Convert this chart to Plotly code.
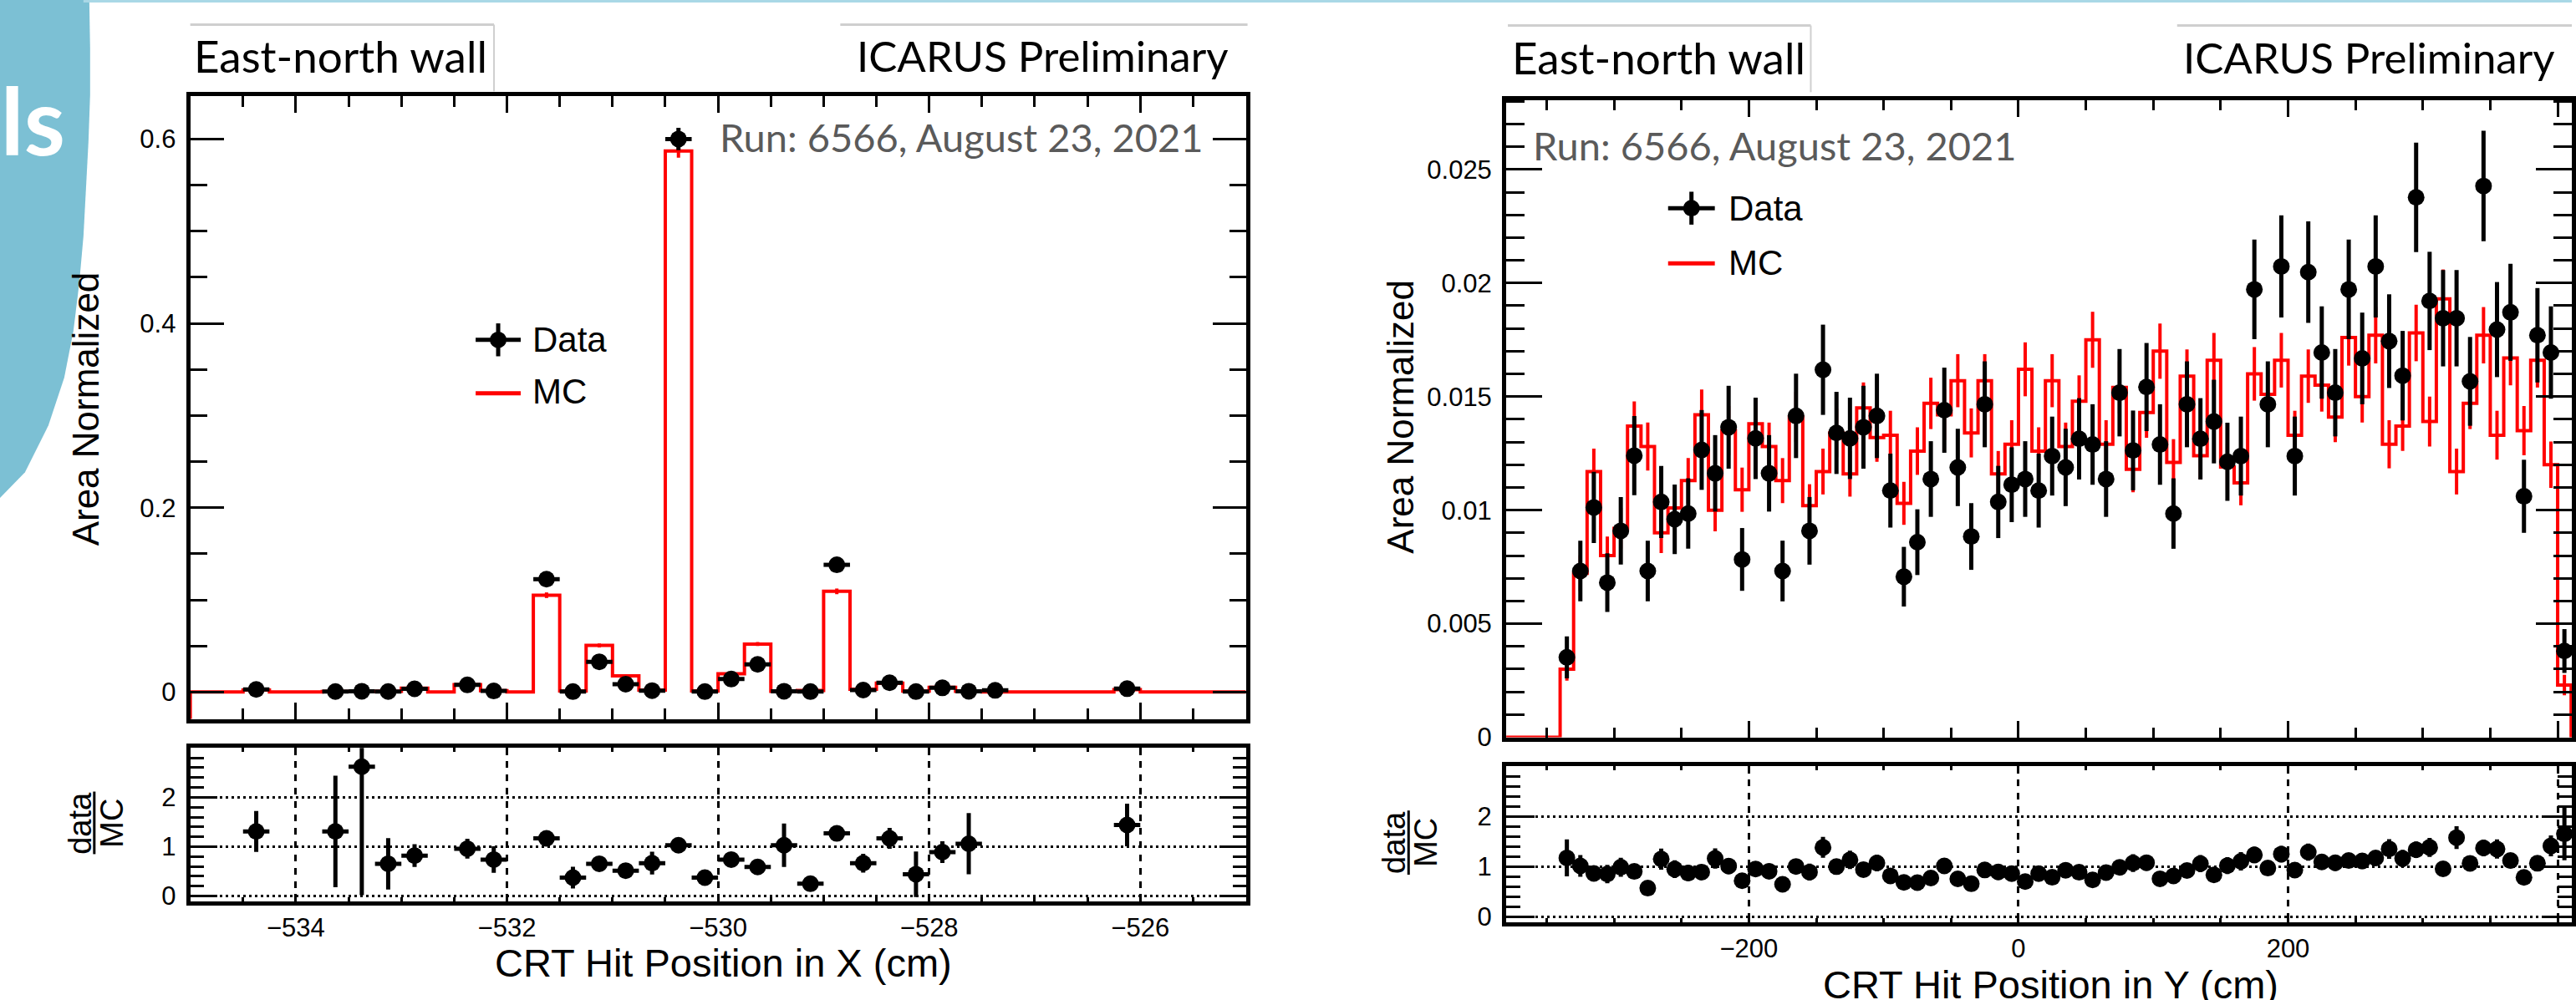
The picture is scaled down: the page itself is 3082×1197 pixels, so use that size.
import numpy as np
import plotly.graph_objects as go

W, H = 3082, 1197

# ---------------- Left panel: CRT hit position in X ----------------
x_bin_lo, x_bin_width, x_nbins = -535.0, 0.25, 40
x_mc = [0, 0, 0.0021, 0, 0, 0.0004, 0.0003, 0.0008, 0.0042, 0,
        0.0079, 0.0015, 0, 0.105, 0.0012, 0.0505, 0.0175, 0.0022, 0.587, 0.0011,
        0.0198, 0.052, 0.0008, 0.0016, 0.1092, 0.0030, 0.0095, 0.0010, 0.0050, 0.0008,
        0, 0, 0, 0, 0, 0.0025, 0, 0, 0, 0]
x_data_pos = [-534.375, -533.625, -533.375, -533.125, -532.875, -532.375, -532.125,
              -531.625, -531.375, -531.125, -530.875, -530.625, -530.375, -530.125,
              -529.875, -529.625, -529.375, -529.125, -528.875, -528.625, -528.375,
              -528.125, -527.875, -527.625, -527.375, -526.125]
x_data = [0.0028, 0.0005, 0.0008, 0.0005, 0.0035, 0.0077, 0.0011,
          0.1224, 0.00045, 0.0328, 0.0085, 0.0015, 0.600, 0.0004,
          0.0140, 0.0300, 0.00085, 0.0004, 0.138, 0.0021, 0.0100,
          0.00045, 0.0045, 0.00085, 0.0018, 0.0036]
x_ratio_pos = [-534.375, -533.625, -533.375, -533.125, -532.875, -532.375, -532.125,
               -531.625, -531.375, -531.125, -530.875, -530.625, -530.375, -530.125,
               -529.875, -529.625, -529.375, -529.125, -528.875, -528.625, -528.375,
               -528.125, -527.875, -527.625, -526.125]
x_ratio = [1.31, 1.31, 2.62, 0.655, 0.82, 0.96, 0.74, 1.17, 0.375, 0.655, 0.515, 0.667,
           1.03, 0.375, 0.74, 0.59, 1.03, 0.25, 1.27, 0.667, 1.17, 0.443, 0.89, 1.06, 1.44]
x_ratio_err = [0.415, 1.13, 2.6, 0.52, 0.23, 0.2, 0.27, 0.05, 0.22, 0.08, 0.1, 0.23,
               0.04, 0.08, 0.1, 0.06, 0.44, 0.08, 0.05, 0.19, 0.21, 0.46, 0.22, 0.62, 0.43]

# ---------------- Right panel: CRT hit position in Y ----------------
y_bin_lo, y_bin_width, y_nbins = -380.0, 10.0, 80
y_mc = [0, 0, 0, 0,
        0.0030, 0.00722, 0.0117, 0.0080, 0.0092, 0.0137, 0.0128, 0.0090, 0.0101, 0.0113,
        0.0142, 0.0100, 0.0135, 0.0109, 0.0138, 0.0128, 0.0113, 0.0141, 0.0102, 0.0117,
        0.0134, 0.0116, 0.0145, 0.0132, 0.0133, 0.0103, 0.0126, 0.0147, 0.0142, 0.0157,
        0.0134, 0.0157, 0.0116, 0.0129, 0.0162, 0.0126, 0.0157, 0.0128, 0.0148, 0.0175,
        0.0129, 0.0154, 0.0118, 0.0143, 0.0170, 0.0121, 0.0159, 0.0124, 0.0166, 0.0119,
        0.0112, 0.0160, 0.0151, 0.0166, 0.0133, 0.0159, 0.0155, 0.0141, 0.0176, 0.0150,
        0.0177, 0.0129, 0.0137, 0.0178, 0.0139, 0.0193, 0.0117, 0.0147, 0.0177, 0.0133,
        0.0167, 0.0135, 0.0166, 0.0120, 0.0023,
        0]
y_data_first_center = -335.0
y_data = [0.00352, 0.00732, 0.01012, 0.00681, 0.00909, 0.0124, 0.00732, 0.01036, 0.0096,
          0.00985, 0.01265, 0.01162, 0.01365, 0.00783, 0.01316, 0.01162, 0.00732, 0.01415,
          0.00909, 0.01618, 0.0134, 0.01316, 0.01365, 0.01415, 0.01086, 0.00707, 0.00859,
          0.01137, 0.0144, 0.01188, 0.00884, 0.01466, 0.01036, 0.01112,
          0.01137, 0.01086, 0.01238, 0.01188, 0.01314, 0.01289, 0.01137, 0.01517, 0.01263,
          0.01542, 0.01289, 0.00985, 0.01466, 0.01314, 0.0139, 0.01213, 0.01238, 0.01972,
          0.01466, 0.02073, 0.01238, 0.02048, 0.01694, 0.01517, 0.01972, 0.01668, 0.02073,
          0.01744, 0.01592, 0.02377, 0.01921, 0.01845, 0.01845, 0.01567, 0.02427, 0.01795,
          0.01871, 0.01061, 0.0177, 0.01694, 0.0038]

N_DATA = 4100.0   # effective statistics used for the Poisson error bars
N_MC = 11500.0

# ---------------- helpers ----------------
def PX(x):
    return x / W


def PY(y):
    return 1 - y / H


RED = "#ff0000"
ROOTF = "Liberation Sans"
AVF = "Lato"
TICKSZ = 31

x_edges = x_bin_lo + x_bin_width * np.arange(x_nbins + 1)
x_centers = x_edges[:-1] + x_bin_width / 2
y_edges = y_bin_lo + y_bin_width * np.arange(y_nbins + 1)
y_centers = y_edges[:-1] + y_bin_width / 2
y_data_pos = y_data_first_center + y_bin_width * np.arange(len(y_data))

xmc = np.array(x_mc)
ymc = np.array(y_mc)
xd = np.array(x_data)
yd = np.array(y_data)

XL_RANGE = [-535, -525]
XL_YR = [-0.0295, 0.6464]
YR_XR = [-380, 410.5]
YR_YR = [0, 0.02804]
RAT_L = [-0.1, 3.0]
RAT_R = [-0.11, 3.0]

fig = go.Figure()

# ---- left upper ----
fig.add_trace(go.Scatter(
    x=np.concatenate([[x_edges[0]], x_edges]),
    y=np.concatenate([[XL_YR[0]], xmc, [xmc[-1]]]),
    mode="lines", line=dict(color=RED, width=4, shape="hv"),
    xaxis="x", yaxis="y", hoverinfo="skip"))
fig.add_trace(go.Scatter(
    x=x_centers, y=xmc, mode="markers",
    marker=dict(size=1, color="rgba(0,0,0,0)"),
    error_y=dict(type="data", array=np.sqrt(xmc / N_MC), color=RED, thickness=4, width=0),
    xaxis="x", yaxis="y", hoverinfo="skip"))
fig.add_trace(go.Scatter(
    x=x_data_pos, y=xd, mode="markers",
    marker=dict(size=20, color="black"),
    error_y=dict(type="data", array=np.sqrt(xd / N_DATA), color="black", thickness=5, width=0),
    error_x=dict(type="data", array=[x_bin_width / 2] * len(xd), color="black", thickness=5, width=0),
    xaxis="x", yaxis="y", hoverinfo="skip"))

# ---- left ratio ----
fig.add_trace(go.Scatter(
    x=x_ratio_pos, y=x_ratio, mode="markers",
    marker=dict(size=20, color="black"),
    error_y=dict(type="data", array=x_ratio_err, color="black", thickness=5, width=0),
    error_x=dict(type="data", array=[x_bin_width / 2] * len(x_ratio), color="black", thickness=5, width=0),
    xaxis="x2", yaxis="y2", hoverinfo="skip"))

# ---- right upper ----
fig.add_trace(go.Scatter(
    x=y_edges, y=np.concatenate([ymc, [ymc[-1]]]),
    mode="lines", line=dict(color=RED, width=4, shape="hv"),
    xaxis="x3", yaxis="y3", hoverinfo="skip"))
fig.add_trace(go.Scatter(
    x=y_centers, y=ymc, mode="markers",
    marker=dict(size=1, color="rgba(0,0,0,0)"),
    error_y=dict(type="data", array=np.sqrt(ymc / N_MC), color=RED, thickness=4, width=0),
    xaxis="x3", yaxis="y3", hoverinfo="skip"))
fig.add_trace(go.Scatter(
    x=y_data_pos, y=yd, mode="markers",
    marker=dict(size=20, color="black"),
    error_y=dict(type="data", array=np.sqrt(yd / N_DATA), color="black", thickness=5, width=0),
    error_x=dict(type="data", array=[y_bin_width / 2] * len(yd), color="black", thickness=5, width=0),
    xaxis="x3", yaxis="y3", hoverinfo="skip"))

# ---- right ratio (data / MC) ----
mc_at = np.interp(y_data_pos, y_centers, ymc)
rr = yd / mc_at
sd = np.sqrt(yd / N_DATA)
sm = np.sqrt(mc_at / N_MC)
rr_err = np.sqrt((sd / mc_at) ** 2 + (yd * sm / mc_at ** 2) ** 2)
fig.add_trace(go.Scatter(
    x=y_data_pos, y=rr, mode="markers",
    marker=dict(size=20, color="black"),
    error_y=dict(type="data", array=rr_err, color="black", thickness=5, width=0),
    error_x=dict(type="data", array=[y_bin_width / 2] * len(rr), color="black", thickness=5, width=0),
    xaxis="x4", yaxis="y4", hoverinfo="skip"))


def axis(domain, rng, dtick, tick0, mdtick, tlen, mlen, labels, anchor, standoff=6, **kw):
    d = dict(domain=domain, range=rng, showline=True, linewidth=5, linecolor="black",
             mirror="ticks", ticks="inside", ticklen=tlen, tickwidth=3, tickcolor="black",
             dtick=dtick, tick0=tick0,
             minor=dict(ticks="inside", ticklen=mlen, tickwidth=3, tickcolor="black",
                        dtick=mdtick, tick0=tick0, showgrid=False),
             showgrid=False, zeroline=False, showticklabels=labels, anchor=anchor,
             tickfont=dict(family=ROOTF, size=TICKSZ, color="black"), ticklabelstandoff=standoff,
             fixedrange=True)
    d.update(kw)
    return d


GRIDX = dict(showgrid=True, gridcolor="black", gridwidth=3, griddash="8px,8px")
GRIDY = dict(showgrid=True, gridcolor="black", gridwidth=3, griddash="3px,4px")

LX = [PX(228), PX(1493)]
RX = [PX(1805), 1.0]

fig.update_layout(
    width=W, height=H, margin=dict(l=0, r=0, t=0, b=0),
    paper_bgcolor="white", plot_bgcolor="white", showlegend=False,
    xaxis=axis(LX, XL_RANGE, 2, -534, 0.5, 20, 13, False, "y"),
    yaxis=axis([PY(874), PY(117)], XL_YR, 0.2, 0, 0.05, 40, 20, True, "x",
               tickmode="array", tickvals=[0, 0.2, 0.4, 0.6], ticktext=["0", "0.2", "0.4", "0.6"]),
    xaxis2=axis(LX, XL_RANGE, 2, -534, 0.5, 9, 5, True, "y2", standoff=0, **GRIDX),
    yaxis2=axis([PY(1095), PY(909)], RAT_L, 1, 0, 0.2, 32, 16, True, "x2",
                tickmode="array", tickvals=[0, 1, 2], ticktext=["0", "1", "2"], **GRIDY),
    xaxis3=axis(RX, YR_XR, 200, 0, 50, 20, 12, False, "y3"),
    yaxis3=axis([PY(896), PY(122)], YR_YR, 0.005, 0, 0.001, 43, 22, True, "x3",
                tickmode="array", tickvals=[0, 0.005, 0.01, 0.015, 0.02, 0.025],
                ticktext=["0", "0.005", "0.01", "0.015", "0.02", "0.025"]),
    xaxis4=axis(RX, YR_XR, 200, 0, 50, 9, 5, True, "y4", standoff=0, **GRIDX),
    yaxis4=axis([PY(1121), PY(931)], RAT_R, 1, 0, 0.2, 34, 17, True, "x4",
                tickmode="array", tickvals=[0, 1, 2], ticktext=["0", "1", "2"], **GRIDY),
)
for k in ["yaxis2", "yaxis4"]:
    fig.layout[k].minor.tickmode = "linear"

shapes = []
# slide decoration (blue circle segment + top rule)
edge = [(107, 0), (108, 60), (108, 115), (106, 172), (103, 230), (100, 287), (95, 344),
        (88, 402), (77, 459), (58, 517), (30, 574), (0, 605)]
path = f"M {PX(0)},{PY(0)} " + " ".join(f"L {PX(a)},{PY(b)}" for a, b in edge) + " Z"
shapes.append(dict(type="path", path=path, xref="paper", yref="paper",
                   fillcolor="#7cc0d4", line=dict(width=0), layer="below"))
shapes.append(dict(type="line", xref="paper", yref="paper", x0=PX(100), x1=1, y0=PY(1.5), y1=PY(1.5),
                   line=dict(color="#a9d8e6", width=3)))


def hline(x0, x1, y, color, w):
    shapes.append(dict(type="line", xref="paper", yref="paper", x0=PX(x0), x1=PX(x1),
                       y0=PY(y), y1=PY(y), line=dict(color=color, width=w)))


def vline(x, y0, y1, color, w):
    shapes.append(dict(type="line", xref="paper", yref="paper", x0=PX(x), x1=PX(x),
                       y0=PY(y0), y1=PY(y1), line=dict(color=color, width=w)))


GR = "#cfcfcf"
# text boxes
hline(228, 592, 30, GR, 3); vline(592, 30, 111, GR, 2)
hline(1007, 1495, 30, GR, 3)
hline(1807, 2170, 31, GR, 3); vline(2170, 31, 112, GR, 2)
hline(2609, 3082, 31, GR, 3)


# legends (drawn markers)
def data_legend(cx, cy, half):
    hline(cx - half, cx + half, cy, "black", 5)
    vline(cx, cy - 20, cy + 20, "black", 5)
    shapes.append(dict(type="circle", xref="paper", yref="paper",
                       x0=PX(cx - 10), x1=PX(cx + 10), y0=PY(cy + 10), y1=PY(cy - 10),
                       fillcolor="black", line=dict(color="black", width=0)))


data_legend(597, 413, 27)
hline(570, 624, 478, RED, 5)
data_legend(2027, 253, 28)
hline(1999, 2055, 320, RED, 5)

# data/MC fraction bars
vline(113, 962, 1038, "black", 3)
vline(1688, 985, 1063, "black", 3)

ann = []


def text(x, y, s, size, family=ROOTF, color="black", xanchor="center", angle=0, bold=False):
    ann.append(dict(x=PX(x), y=PY(y), xref="paper", yref="paper", text=("<b>%s</b>" % s) if bold else s,
                    showarrow=False, xanchor=xanchor, yanchor="middle", textangle=angle,
                    font=dict(family=family, size=size, color=color)))


text(80, 145, "els", 112, family="Lato", color="white", xanchor="right", bold=True)
# headers
text(230, 68, "East-north wall", 53, family=AVF, xanchor="left")
text(1474, 68, "ICARUS Preliminary", 51, family=AVF, xanchor="right")
text(1810, 70, "East-north wall", 53, family=AVF, xanchor="left")
text(2614, 70, "ICARUS Preliminary", 51, family=AVF, xanchor="left")
text(860, 167, "Run: 6566, August 23, 2021", 47, family=AVF, color="#5a5a5a", xanchor="left")
text(1835, 177, "Run: 6566, August 23, 2021", 47, family=AVF, color="#5a5a5a", xanchor="left")
# legend text
text(636, 413, "Data", 42, xanchor="left")
text(636, 476, "MC", 42, xanchor="left")
text(2069, 253, "Data", 42, xanchor="left")
text(2069, 319, "MC", 42, xanchor="left")
# axis titles
text(103, 497, "Area Normalized", 44, angle=-90)
text(1678, 506, "Area Normalized", 44, angle=-90)
text(96, 1000, "data", 38, angle=-90)
text(134, 1000, "MC", 38, angle=-90)
text(1670, 1024, "data", 38, angle=-90)
text(1708, 1024, "MC", 38, angle=-90)
text(867, 1170, "CRT Hit Position in X (cm)", 47)
text(2457, 1196, "CRT Hit Position in Y (cm)", 47)

fig.update_layout(shapes=shapes, annotations=ann)
fig.write_html("out.html", config={"displayModeBar": False, "staticPlot": True},
               post_script="document.body.style.margin='0';document.body.style.overflow='hidden';")
